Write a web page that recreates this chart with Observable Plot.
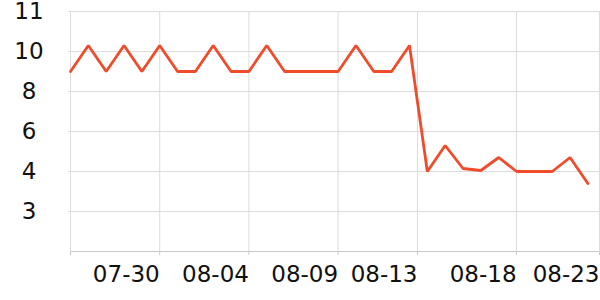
<!DOCTYPE html>
<html>
<head>
<meta charset="utf-8">
<script src="https://cdn.jsdelivr.net/npm/d3@7"></script>
<script src="https://cdn.jsdelivr.net/npm/@observablehq/plot@0.6"></script>
<style>
  html, body { margin: 0; padding: 0; background: #fff; }
  svg { font-family: "DejaVu Sans", sans-serif; }
</style>
</head>
<body>
<div id="chart"></div>
<script>
// Series values (one point per day, evenly spaced)
const values = [9, 10.15, 9, 10.15, 9, 10.15, 9, 9, 10.15, 9,
                9, 10.15, 9, 9, 9, 9, 10.15, 9, 9, 10.15,
                4, 5.3, 4.15, 4.05, 4.7, 4, 4, 4, 4.7, 3.7];
// y axis tick labels (evenly spaced on screen)
const yTicks = [11, 10, 8, 6, 4, 3];
const yDomain = [2, 3, 4, 6, 8, 10, 11];
// x axis tick positions (point index) and labels
const xTicks = [0, 5, 10, 15, 19.45, 25, 29.65];
const xLabels = ["", "07-30", "08-04", "08-09", "08-13", "08-18", "08-23"];

const data = values.map((v, i) => ({i, v}));
const ticks = xTicks.map((t, k) => ({t, label: xLabels[k]}));

const chart = Plot.plot({
  width: 600,
  height: 300,
  marginLeft: 70,
  marginRight: 1,
  marginTop: 11,
  marginBottom: 48,
  style: {fontFamily: "DejaVu Sans, sans-serif", background: "#fff"},
  x: {type: "linear", domain: [0, 29.65], axis: null, label: null},
  y: {type: "linear", domain: yDomain, range: [251, 211, 171, 131, 91, 51, 11], axis: null, label: null},
  marks: [
    Plot.gridY(yTicks, {stroke: "#dcdcdc", strokeOpacity: 1}),
    Plot.gridX(xTicks, {stroke: "#dcdcdc", strokeOpacity: 1}),
    Plot.axisY(yTicks, {tickSize: 2, tickFormat: () => "", stroke: "#dcdcdc", label: null}),
    Plot.axisX(xTicks, {tickSize: 3, tickFormat: () => "", stroke: "#c8c8c8", label: null}),
    Plot.ruleY([2], {stroke: "#c8c8c8"}),
    Plot.text(yTicks, {y: d => d, text: d => String(d), frameAnchor: "left", dx: -41.5,
      textAnchor: "middle", lineAnchor: "middle", fontSize: 23, fill: "#111"}),
    Plot.text(ticks, {x: "t", text: "label", frameAnchor: "bottom", textAnchor: "end",
      lineAnchor: "top", dy: 13, fontSize: 23, fill: "#111"}),
    Plot.line(data, {x: "i", y: "v", stroke: "#f04b2b", strokeWidth: 2.8, strokeLinejoin: "miter", curve: "linear"})
  ]
});
document.getElementById("chart").appendChild(chart);
</script>
</body>
</html>
